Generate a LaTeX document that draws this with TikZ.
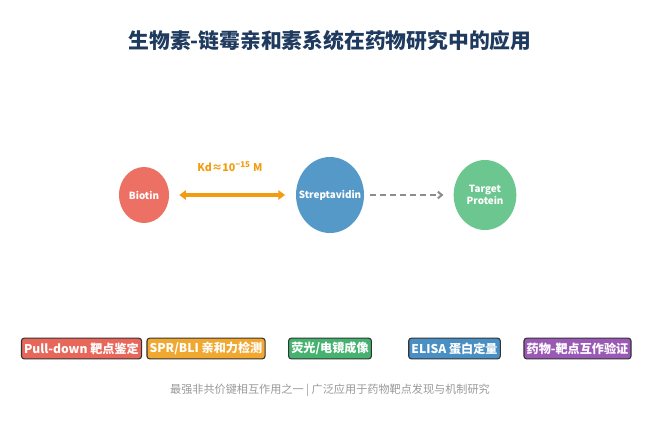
\documentclass[tikz,border=0pt]{standalone}
\usepackage{fontspec}
\setmainfont{Noto Sans CJK SC}
\usetikzlibrary{arrows.meta,shapes.geometric}
\definecolor{Navy}{HTML}{1F3A5F}
\definecolor{Coral}{HTML}{EC7063}
\definecolor{Steel}{HTML}{5499C7}
\definecolor{Mint}{HTML}{6CC68F}
\definecolor{Amber}{HTML}{F39C12}
\definecolor{Ash}{HTML}{8C8C8C}
\definecolor{Note}{HTML}{999999}
\definecolor{Edge}{HTML}{333333}
\definecolor{TagRed}{HTML}{E8675A}
\definecolor{TagOrange}{HTML}{F0A830}
\definecolor{TagGreen}{HTML}{45B36F}
\definecolor{TagBlue}{HTML}{4A8FC3}
\definecolor{TagPurple}{HTML}{9B59B6}

\tikzset{
  molecule/.style={ellipse,inner sep=0pt},
  molname/.style={text=white,align=center,inner sep=0pt,
    font=\fontsize{7.4}{9}\selectfont\bfseries},
  tag/.style={draw=Edge,line width=0.8pt,rounded corners=2pt,text=white,
    inner xsep=2pt,inner ysep=0pt,minimum height=15.5pt,
    font=\fontsize{9.1}{11}\selectfont\bfseries}
}

\begin{document}
\begin{tikzpicture}[x=0.75pt,y=-0.75pt]
  \useasboundingbox (0,0) rectangle (660,425);

  % title
  \node[text=Navy,font=\fontsize{15.6}{18}\selectfont\bfseries] (title) at (330,41) {生物素-链霉亲和素系统在药物研究中的应用};

  % molecules
  \node[molecule,fill=Coral,minimum width=37.5pt,minimum height=42pt,
    label={[molname]center:Biotin}] (biotin) at (144,195) {};
  \node[molecule,fill=Steel,minimum width=51pt,minimum height=57pt,
    label={[molname]center:Streptavidin}] (strept) at (330,195) {};
  \node[molecule,fill=Mint,minimum width=47pt,minimum height=52.5pt,
    label={[molname]center:Target\\Protein}] (target) at (485,195) {};

  % binding and link
  \draw[Amber,line width=2.5pt,{Triangle[length=5pt,width=7pt]}-{Triangle[length=5pt,width=7pt]},
    shorten <=7.5pt,shorten >=8pt] (biotin) -- (strept);
  \node[text=Amber,font=\fontsize{8}{10}\selectfont\bfseries] (kd) at (230,167) {Kd≈10\textsuperscript{−15} M};
  \draw[Ash,line width=1.5pt,dash pattern=on 5pt off 2.5pt,-{Straight Barb[length=3pt,width=5pt]},
    shorten <=4pt,shorten >=7.5pt] (strept) -- (target);

  % applications
  \node[tag,fill=TagRed] (pulldown) at (81.5,348.5) {Pull-down 靶点鉴定};
  \node[tag,fill=TagOrange] (spr) at (206,348.5) {SPR/BLI 亲和力检测};
  \node[tag,fill=TagGreen] (imaging) at (330,348.5) {荧光/电镜成像};
  \node[tag,fill=TagBlue] (elisa) at (454.5,348.5) {ELISA 蛋白定量};
  \node[tag,fill=TagPurple] (validation) at (577.5,348.5) {药物-靶点互作验证};

  \node[text=Note,font=\fontsize{8.35}{10}\selectfont] (footer) at (330,390) {最强非共价键相互作用之一 | 广泛应用于药物靶点发现与机制研究};
\end{tikzpicture}
\end{document}
